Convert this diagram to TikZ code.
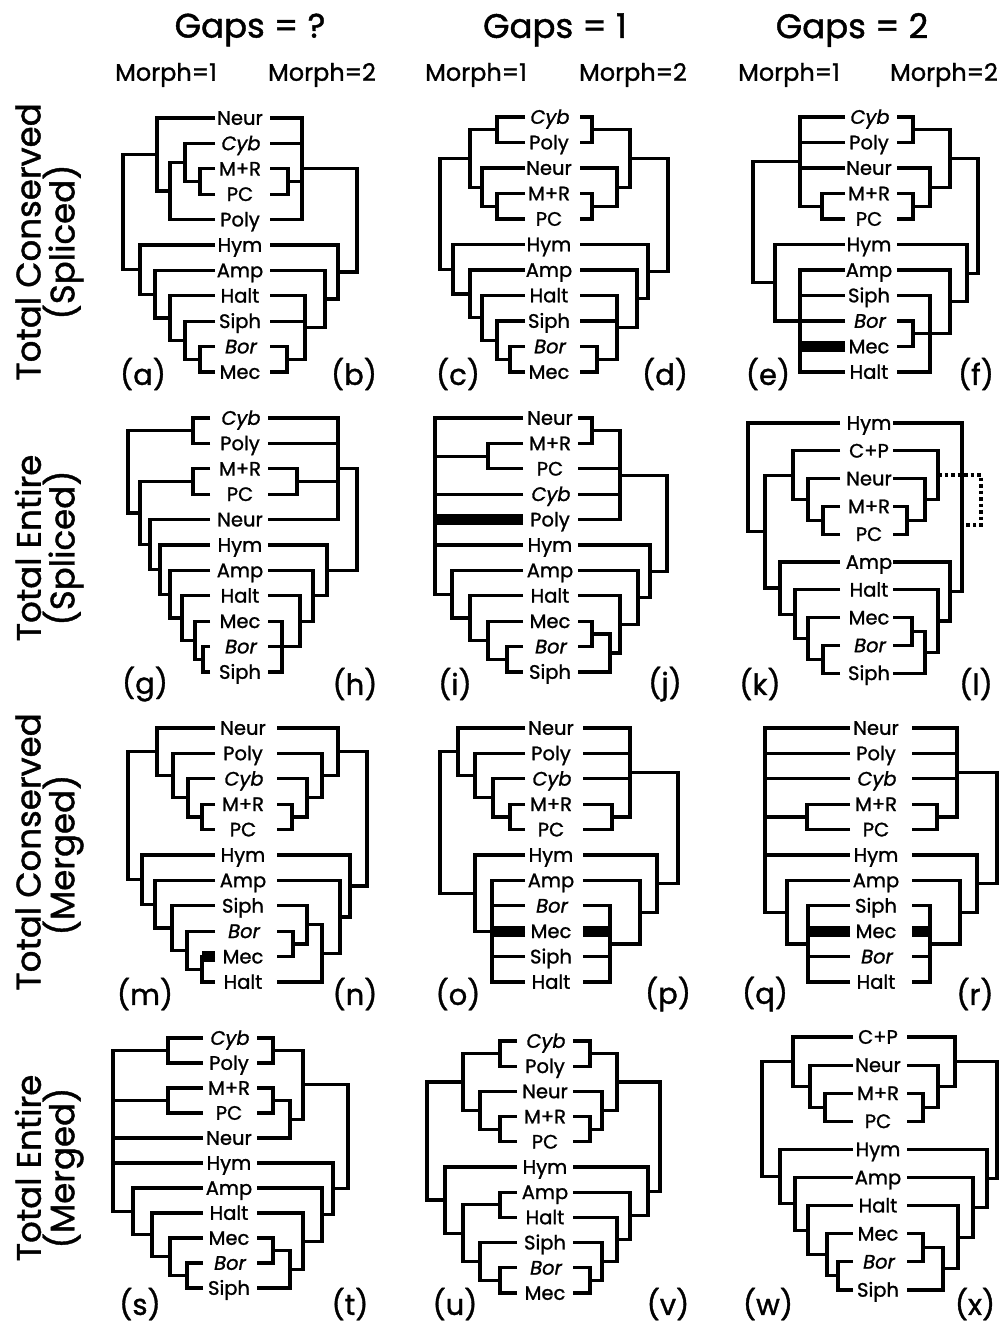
\documentclass[tikz,border=0pt]{standalone}
\usepackage{fontspec}
\setmainfont{Poppins}[FakeBold=1.2]
\newfontfamily\itf{Poppins}[FakeSlant=0.18,FakeBold=1.2]
\usetikzlibrary{calc}

% clade: name, x, list of children (top to bottom)
\newcommand\cl[3]{%
  \foreach \cc [count=\kk] in {#3}{\ifnum\kk=1 \xdef\trfirst{\cc}\fi\xdef\trlast{\cc}}%
  \coordinate (tmpx) at (#2,0);%
  \coordinate (tmpm) at ($(\trfirst)!.5!(\trlast)$);%
  \coordinate (#1) at (tmpx |- tmpm);%
  \foreach \cc in {#3}{\draw[br] (\cc) -| (#1);}%
}
% panel: cx, y0, dy, xL, xR, labels
\newcommand\setpanel[6]{%
  \foreach \lbl [count=\ii] in {#6}{%
    \pgfmathsetmacro\yy{#2+(\ii-1)*#3}%
    \node[lab] (t\ii) at (#1,\yy) {\lbl};%
    \coordinate (l\ii) at (#4,\yy);%
    \coordinate (r\ii) at (#5,\yy);%
  }}

\begin{document}
\begin{tikzpicture}[x=1pt,y=-1pt,
  br/.style={line width=3.2pt},
  thk/.style={line width=11pt},
  dots/.style={line width=3.5pt,dash pattern=on 3.5pt off 3pt},
  lab/.style={font=\fontsize{19.5}{19.5}\selectfont,inner sep=0pt,anchor=base,yshift=-6.8pt},
  hdr/.style={font=\fontsize{34}{34}\selectfont,inner sep=0pt},
  sub/.style={font=\fontsize{24}{24}\selectfont,inner sep=0pt},
  rowl/.style={font=\fontsize{34}{34}\selectfont,inner sep=0pt,rotate=90},
  plab/.style={font=\fontsize{29}{29}\selectfont,inner sep=0pt}]
\fill[white] (0,0) rectangle (1003,1326);
\useasboundingbox (0,0) rectangle (1003,1326);

% headers
\node[hdr] (h1) at (250,30) {Gaps = ?};
\node[hdr] (h2) at (555,30) {Gaps = 1};
\node[hdr] (h3) at (852,30) {Gaps = 2};
\node[sub] (m11) at (166,75) {Morph=1};
\node[sub] (m12) at (322,75) {Morph=2};
\node[sub] (m21) at (476,75) {Morph=1};
\node[sub] (m22) at (633,75) {Morph=2};
\node[sub] (m31) at (789,75) {Morph=1};
\node[sub] (m32) at (944,75) {Morph=2};

% row labels
\node[rowl] (ra1) at (28,242) {Total Conserved};
\node[rowl] (ra2) at (63,242) {(Spliced)};
\node[rowl] (rb1) at (28,548) {Total Entire};
\node[rowl] (rb2) at (63,548) {(Spliced)};
\node[rowl] (rc1) at (28,852) {Total Conserved};
\node[rowl] (rc2) at (63,855) {(Merged)};
\node[rowl] (rd1) at (28,1168) {Total Entire};
\node[rowl] (rd2) at (63,1168) {(Merged)};

% panel letters
\node[plab] (pa) at (143,374) {(a)};
\node[plab] (pb) at (354,374) {(b)};
\node[plab] (pc) at (458,374) {(c)};
\node[plab] (pd) at (665,374) {(d)};
\node[plab] (pe) at (768,374) {(e)};
\node[plab] (pf) at (976,374) {(f)};
\node[plab] (pg) at (145,684) {(g)};
\node[plab] (ph) at (355,684) {(h)};
\node[plab] (pi) at (455,684) {(i)};
\node[plab] (pj) at (665,684) {(j)};
\node[plab] (pk) at (760,684) {(k)};
\node[plab] (pl) at (976,684) {(l)};
\node[plab] (pm) at (145,994) {(m)};
\node[plab] (pn) at (355,994) {(n)};
\node[plab] (po) at (458,994) {(o)};
\node[plab] (pp) at (668,994) {(p)};
\node[plab] (pq) at (765,994) {(q)};
\node[plab] (pr) at (975,994) {(r)};
\node[plab] (ps) at (140,1304) {(s)};
\node[plab] (pt) at (350,1304) {(t)};
\node[plab] (pu) at (455,1304) {(u)};
\node[plab] (pv) at (668,1304) {(v)};
\node[plab] (pw) at (768,1304) {(w)};
\node[plab] (px) at (975,1304) {(x)};

% ---------- (a)/(b)
\setpanel{240}{118}{25.4}{215}{270}{Neur,{\itf Cyb},M+R,PC,Poly,Hym,Amp,Halt,Siph,{\itf Bor},Mec}
\cl{a1}{200}{l3,l4}
\cl{a2}{185}{l2,a1}
\cl{a3}{170}{a2,l5}
\cl{a4}{157}{l1,a3}
\cl{b1}{200}{l10,l11}
\cl{b2}{185}{l9,b1}
\cl{b3}{170}{l8,b2}
\cl{b4}{155}{l7,b3}
\cl{b5}{140}{l6,b4}
\cl{root}{123}{a4,b5}
\cl{c1}{288}{r3,r4}
\cl{c2}{302}{r1,r2,c1,r5}
\cl{d1}{287}{r10,r11}
\cl{d2}{305}{r8,r9,d1}
\cl{d3}{325}{r7,d2}
\cl{d4}{338}{r6,d3}
\cl{rootr}{357}{c2,d4}

% ---------- (c)/(d)
\setpanel{549}{117}{25.5}{525}{580}{{\itf Cyb},Poly,Neur,M+R,PC,Hym,Amp,Halt,Siph,{\itf Bor},Mec}
\cl{a1}{497}{l1,l2}
\cl{a2}{497}{l4,l5}
\cl{a3}{482}{l3,a2}
\cl{a4}{470}{a1,a3}
\cl{b1}{510}{l10,l11}
\cl{b2}{497}{l9,b1}
\cl{b3}{482}{l8,b2}
\cl{b4}{470}{l7,b3}
\cl{b5}{453}{l6,b4}
\cl{root}{440}{a4,b5}
\cl{c1}{592}{r1,r2}
\cl{c2}{592}{r4,r5}
\cl{c3}{617}{r3,c2}
\cl{c4}{630}{c1,c3}
\cl{d1}{597}{r10,r11}
\cl{d2}{617}{r8,r9,d1}
\cl{d3}{637}{r7,d2}
\cl{d4}{648}{r6,d3}
\cl{rootr}{668}{c4,d4}

% ---------- (e)/(f)
\setpanel{869}{117}{25.5}{845}{897}{{\itf Cyb},Poly,Neur,M+R,PC,Hym,Amp,Siph,{\itf Bor},Mec,Halt}
\cl{a1}{822}{l4,l5}
\cl{a2}{800}{l1,l2,l3,a1}
\cl{b1}{800}{l7,l8,l9,l10,l11}
\cl{b2}{775}{l6,b1}
\cl{root}{753}{a2,b2}
\draw[thk] (l10) -- (l10 -| b1);
\cl{c1}{913}{r1,r2}
\cl{c2}{913}{r4,r5}
\cl{c3}{930}{r3,c2}
\cl{c4}{950}{c1,c3}
\cl{d1}{913}{r9,r10}
\cl{d2}{930}{r8,r11}
\cl{d3}{950}{r7,d1,d2}
\cl{d4}{967}{r6,d3}
\cl{rootr}{978}{c4,d4}

% ---------- (g)/(h)
\setpanel{240}{418}{25.4}{210}{268}{{\itf Cyb},Poly,M+R,PC,Neur,Hym,Amp,Halt,Mec,{\itf Bor},Siph}
\cl{a1}{193}{l1,l2}
\cl{a2}{193}{l3,l4}
\cl{b1}{203}{l10,l11}
\cl{b2}{195}{l9,b1}
\cl{b3}{182}{l8,b2}
\cl{b4}{170}{l7,b3}
\cl{b5}{160}{l6,b4}
\cl{b6}{150}{l5,b5}
\cl{b7}{140}{a2,b6}
\cl{root}{128}{a1,b7}
\cl{c1}{297}{r3,r4}
\cl{c2}{338}{r1,r2,c1,r5}
\cl{d1}{282}{r9,r10,r11}
\cl{d2}{300}{r8,d1}
\cl{d3}{313}{r7,d2}
\cl{d4}{327}{r6,d3}
\cl{rootr}{357}{c2,d4}

% ---------- (i)/(j)
\setpanel{550}{418}{25.4}{523}{578}{Neur,M+R,PC,{\itf Cyb},Poly,Hym,Amp,Halt,Mec,{\itf Bor},Siph}
\cl{a1}{488}{l2,l3}
\cl{b1}{507}{l10,l11}
\cl{b2}{488}{l9,b1}
\cl{b3}{470}{l8,b2}
\cl{b4}{452}{l7,b3}
\cl{root}{435}{l1,a1,l4,l5,l6,b4}
\draw[thk] (l5) -- (l5 -| root);
\cl{c1}{592}{r1,r2}
\cl{c2}{620}{c1,r3,r4,r5}
\cl{d1}{592}{r9,r10}
\cl{d2}{610}{d1,r11}
\cl{d3}{620}{r8,d2}
\cl{d4}{638}{r7,d3}
\cl{d5}{650}{r6,d4}
\cl{rootr}{667}{c2,d5}

% ---------- (k)/(l)
\setpanel{869}{423}{27.8}{840}{893}{Hym,C+P,Neur,M+R,PC,Amp,Halt,Mec,{\itf Bor},Siph}
\cl{a1}{823}{l4,l5}
\cl{a2}{808}{l3,a1}
\cl{a3}{793}{l2,a2}
\cl{b1}{823}{l9,l10}
\cl{b2}{808}{l8,b1}
\cl{b3}{795}{l7,b2}
\cl{b4}{780}{l6,b3}
\cl{c0}{765}{a3,b4}
\cl{root}{748}{l1,c0}
\cl{c1}{907}{r4,r5}
\cl{c2}{925}{r3,c1}
\cl{c3}{938}{r2,c2}
\cl{d1}{912}{r8,r9}
\cl{d2}{925}{d1,r10}
\cl{d3}{938}{r7,d2}
\cl{d4}{950}{r6,d3}
\cl{rootr}{962}{r1,d4}
\coordinate (dtx) at (981,525);
\coordinate (dte) at (966,525);
\draw[dots] (c3) -| (dtx) -- (dte);

% ---------- (m)/(n)
\setpanel{243}{728}{25.4}{215}{277}{Neur,Poly,{\itf Cyb},M+R,PC,Hym,Amp,Siph,{\itf Bor},Mec,Halt}
\cl{a1}{202}{l4,l5}
\cl{a2}{188}{l3,a1}
\cl{a3}{173}{l2,a2}
\cl{a4}{157}{l1,a3}
\cl{b1}{202}{l10,l11}
\cl{b2}{187}{l9,b1}
\cl{b3}{172}{l8,b2}
\cl{b4}{155}{l7,b3}
\cl{b5}{142}{l6,b4}
\cl{root}{128}{a4,b5}
\draw[thk] (l10) -- (l10 -| b1);
\cl{c1}{292}{r4,r5}
\cl{c2}{307}{r3,c1}
\cl{c3}{322}{r2,c2}
\cl{c4}{338}{r1,c3}
\cl{d1}{293}{r9,r10}
\cl{d2}{307}{r8,d1}
\cl{d3}{322}{d2,r11}
\cl{d4}{340}{r7,d3}
\cl{d5}{350}{r6,d4}
\cl{rootr}{367}{c4,d5}

% ---------- (o)/(p)
\setpanel{551}{728}{25.4}{525}{583}{Neur,Poly,{\itf Cyb},M+R,PC,Hym,Amp,{\itf Bor},Mec,Siph,Halt}
\cl{a1}{510}{l4,l5}
\cl{a2}{493}{l3,a1}
\cl{a3}{475}{l2,a2}
\cl{a4}{458}{l1,a3}
\cl{b1}{492}{l7,l8,l9,l10,l11}
\cl{b2}{475}{l6,b1}
\cl{root}{440}{a4,b2}
\draw[thk] (l9) -- (l9 -| b1);
\cl{c1}{612}{r4,r5}
\cl{c2}{630}{r1,r2,r3,c1}
\cl{d1}{610}{r8,r9,r10,r11}
\cl{d2}{640}{r7,d1}
\cl{d3}{657}{r6,d2}
\cl{rootr}{678}{c2,d3}
\draw[thk] (r9) -- (r9 -| d1);

% ---------- (q)/(r)
\setpanel{876}{728}{25.4}{850}{912}{Neur,Poly,{\itf Cyb},M+R,PC,Hym,Amp,Siph,Mec,{\itf Bor},Halt}
\cl{a1}{807}{l4,l5}
\cl{b1}{808}{l8,l9,l10,l11}
\cl{b2}{787}{l7,b1}
\cl{root}{765}{l1,l2,l3,a1,l6,b2}
\draw[thk] (l9) -- (l9 -| b1);
\cl{c1}{937}{r4,r5}
\cl{c2}{957}{r1,r2,r3,c1}
\cl{d1}{930}{r8,r9,r10,r11}
\cl{d2}{960}{r7,d1}
\cl{d3}{977}{r6,d2}
\cl{rootr}{997}{c2,d3}
\draw[thk] (r9) -- (r9 -| d1);

% ---------- (s)/(t)
\setpanel{229}{1038}{25}{203}{257}{{\itf Cyb},Poly,M+R,PC,Neur,Hym,Amp,Halt,Mec,{\itf Bor},Siph}
\cl{a1}{168}{l1,l2}
\cl{a2}{168}{l3,l4}
\cl{b1}{187}{l10,l11}
\cl{b2}{170}{l9,b1}
\cl{b3}{152}{l8,b2}
\cl{b4}{133}{l7,b3}
\cl{root}{113}{a1,a2,l5,l6,b4}
\cl{c1}{273}{r1,r2}
\cl{c2}{273}{r3,r4}
\cl{c3}{290}{c2,r5}
\cl{c4}{303}{c1,c3}
\cl{d1}{273}{r9,r10}
\cl{d2}{290}{d1,r11}
\cl{d3}{303}{r8,d2}
\cl{d4}{322}{r7,d3}
\cl{d5}{333}{r6,d4}
\cl{rootr}{348}{c4,d5}

% ---------- (u)/(v)
\setpanel{545}{1041}{25.2}{517}{573}{{\itf Cyb},Poly,Neur,M+R,PC,Hym,Amp,Halt,Siph,{\itf Bor},Mec}
\cl{a1}{500}{l1,l2}
\cl{a2}{500}{l4,l5}
\cl{a3}{480}{l3,a2}
\cl{a4}{463}{a1,a3}
\cl{b1}{500}{l7,l8}
\cl{b2}{500}{l10,l11}
\cl{b3}{480}{l9,b2}
\cl{b4}{463}{b1,b3}
\cl{b5}{445}{l6,b4}
\cl{root}{427}{a4,b5}
\cl{c1}{590}{r1,r2}
\cl{c2}{590}{r4,r5}
\cl{c3}{602}{r3,c2}
\cl{c4}{617}{c1,c3}
\cl{d1}{590}{r10,r11}
\cl{d2}{602}{r9,d1}
\cl{d3}{617}{r8,d2}
\cl{d4}{630}{r7,d3}
\cl{d5}{648}{r6,d4}
\cl{rootr}{660}{c4,d5}

% ---------- (w)/(x)
\setpanel{878}{1037}{28.1}{853}{907}{C+P,Neur,M+R,PC,Hym,Amp,Halt,Mec,{\itf Bor},Siph}
\cl{a1}{825}{l3,l4}
\cl{a2}{810}{l2,a1}
\cl{a3}{793}{l1,a2}
\cl{b1}{838}{l9,l10}
\cl{b2}{827}{l8,b1}
\cl{b3}{808}{l7,b2}
\cl{b4}{795}{l6,b3}
\cl{b5}{780}{l5,b4}
\cl{root}{762}{a3,b5}
\cl{c1}{923}{r3,r4}
\cl{c2}{938}{r2,c1}
\cl{c3}{955}{r1,c2}
\cl{d1}{923}{r8,r9}
\cl{d2}{943}{d1,r10}
\cl{d3}{958}{r7,d2}
\cl{d4}{973}{r6,d3}
\cl{d5}{987}{r5,d4}
\cl{rootr}{997}{c3,d5}
\end{tikzpicture}
\end{document}
